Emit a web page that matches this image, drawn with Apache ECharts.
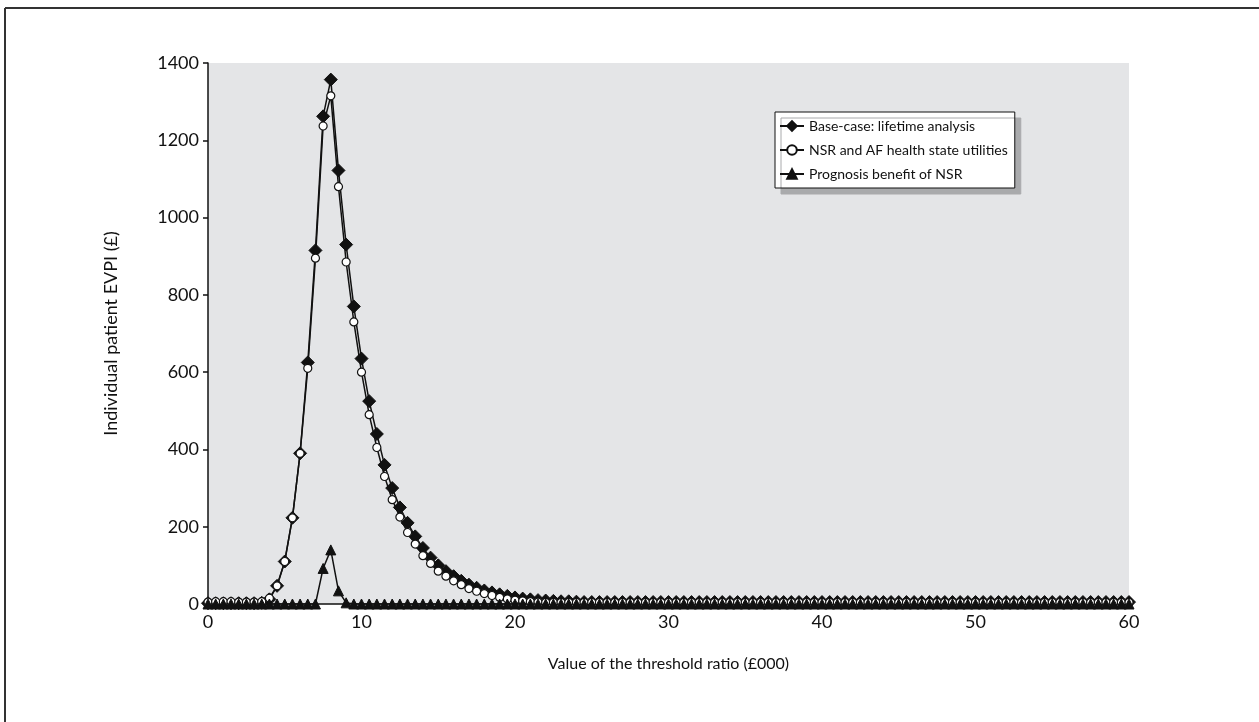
<!DOCTYPE html>
<html>
<head>
    <meta charset="utf-8">
    <script src="https://cdn.jsdelivr.net/npm/echarts@6/dist/echarts.min.js"></script>
    <title>EVPI</title>
    <style>
        html, body { margin: 0; padding: 0; background: #fff; }
        #main { width: 1259px; height: 722px; }
    </style>
</head>
<body>
    <div id="main"></div>
    <script>
        // threshold ratio, £000, every 500
        const ratio = [];
        for (let i = 0; i <= 120; i++) ratio.push(i / 2);

        const baseCase = [
            2, 2, 2, 2, 2, 2, 2, 3,
            12, 47, 110, 223, 390, 625, 915, 1262, 1357, 1122,
            930, 770, 635, 525, 440, 360, 300, 250, 210, 175,
            145, 120, 100, 85, 72, 60, 50, 42, 35, 30,
            25, 21, 17, 14, 12, 10, 9, 8, 7, 7, 6,
            5, 5, 5, 5, 5, 5, 5, 5, 5,
            5, 5, 5, 5, 5, 5, 5, 5, 5,
            5, 5, 5, 5, 5, 5, 5, 5, 5,
            5, 5, 5, 5, 5, 5, 5, 5, 5,
            5, 5, 5, 5, 5, 5, 5, 5, 5,
            5, 5, 5, 5, 5, 5, 5, 5, 5,
            5, 5, 5, 5, 5, 5, 5, 5, 5,
            5, 5, 5, 5, 5, 5, 5, 5, 5
        ];

        const utilities = [
            5, 6, 6, 6, 5, 5, 5, 6,
            15, 47, 110, 223, 390, 610, 895, 1237, 1315, 1080,
            885, 730, 600, 490, 405, 330, 270, 225, 185, 155,
            125, 105, 85, 72, 60, 50, 40, 33, 27, 22,
            17, 13, 10, 8, 6, 5,
            4, 4, 4, 4, 4, 4, 4, 4, 4, 4, 4,
            4, 4, 4, 4, 4, 4, 4, 4, 4, 4, 4,
            4, 4, 4, 4, 4, 4, 4, 4, 4, 4, 4,
            4, 4, 4, 4, 4, 4, 4, 4, 4, 4, 4,
            4, 4, 4, 4, 4, 4, 4, 4, 4, 4, 4,
            4, 4, 4, 4, 4, 4, 4, 4, 4, 4, 4,
            4, 4, 4, 4, 4, 4, 4, 4, 4, 4, 4
        ];

        const prognosis = [
            0, 0, 0, 0, 0, 0, 0, 0, 0, 0,
            0, 0, 0, 0, 0, 92, 140, 34, 3,
            0, 0, 0, 0, 0, 0, 0, 0, 0, 0,
            0, 0, 0, 0, 0, 0, 0, 0, 0, 0,
            0, 0, 0, 0, 0, 0, 0, 0, 0, 0,
            0, 0, 0, 0, 0, 0, 0, 0, 0, 0,
            0, 0, 0, 0, 0, 0, 0, 0, 0, 0,
            0, 0, 0, 0, 0, 0, 0, 0, 0, 0,
            0, 0, 0, 0, 0, 0, 0, 0, 0, 0,
            0, 0, 0, 0, 0, 0, 0, 0, 0, 0,
            0, 0, 0, 0, 0, 0, 0, 0, 0, 0,
            0, 0, 0, 0, 0, 0, 0, 0, 0, 0,
            0, 0
        ];

        const seriesNames = [
            'Base-case: lifetime analysis',
            'NSR and AF health state utilities',
            'Prognosis benefit of NSR'
        ];

        const font = 'Lato';
        const pairs = (vals) => vals.map((v, i) => [ratio[i], v]);

        var myChart = echarts.init(document.getElementById('main'));
        myChart.setOption({
            backgroundColor: '#ffffff',
            animation: false,
            textStyle: { fontFamily: font, color: '#111' },
            graphic: [
                { type: 'line', shape: { x1: 5, y1: 8, x2: 1259, y2: 8 }, style: { stroke: '#333', lineWidth: 2 } },
                { type: 'line', shape: { x1: 5, y1: 8, x2: 5, y2: 722 }, style: { stroke: '#333', lineWidth: 2 } }
            ],
            grid: {
                left: 208, right: 130, top: 63, bottom: 118,
                show: true, backgroundColor: '#e4e5e7', borderWidth: 0
            },
            legend: {
                orient: 'vertical',
                left: 775, top: 112,
                itemWidth: 24, itemHeight: 12, itemGap: 10,
                padding: [7, 7, 7, 4],
                backgroundColor: '#ffffff',
                borderColor: '#111', borderWidth: 1,
                shadowColor: '#a9aaac', shadowBlur: 0, shadowOffsetX: 6, shadowOffsetY: 6,
                textStyle: { fontFamily: font, fontSize: 14, color: '#111' },
                data: seriesNames
            },
            xAxis: {
                type: 'value', min: 0, max: 60, interval: 10,
                name: 'Value of the threshold ratio (£000)',
                nameLocation: 'middle', nameGap: 52,
                nameTextStyle: { fontFamily: font, fontSize: 16, color: '#111' },
                axisLine: { lineStyle: { color: '#111', width: 1.5 } },
                axisTick: { length: 5, lineStyle: { color: '#111', width: 1.5 } },
                axisLabel: { fontFamily: font, fontSize: 18, color: '#111', margin: 9 },
                splitLine: { show: false }
            },
            yAxis: {
                type: 'value', min: 0, max: 1400, interval: 200,
                name: 'Individual patient EVPI (£)',
                nameLocation: 'middle', nameGap: 88,
                nameTextStyle: { fontFamily: font, fontSize: 18, color: '#111' },
                axisLine: { show: true, lineStyle: { color: '#111', width: 1.5 } },
                axisTick: { show: true, length: 5, lineStyle: { color: '#111', width: 1.5 } },
                axisLabel: { fontFamily: font, fontSize: 18, color: '#111', margin: 9, formatter: (v) => String(v) },
                splitLine: { show: false }
            },
            series: [
                {
                    name: seriesNames[0], type: 'line', data: pairs(baseCase),
                    symbol: 'diamond', symbolSize: 13, showAllSymbol: true,
                    lineStyle: { color: '#111', width: 1.5 },
                    itemStyle: { color: '#111', borderColor: '#111', borderWidth: 1 }
                },
                {
                    name: seriesNames[1], type: 'line', data: pairs(utilities),
                    symbol: 'circle', symbolSize: 8, showAllSymbol: true,
                    lineStyle: { color: '#111', width: 1.5 },
                    itemStyle: { color: '#ffffff', borderColor: '#111', borderWidth: 1.2 }
                },
                {
                    name: seriesNames[2], type: 'line', data: pairs(prognosis),
                    symbol: 'triangle', symbolSize: 10, showAllSymbol: true,
                    lineStyle: { color: '#111', width: 1.5 },
                    itemStyle: { color: '#111', borderColor: '#111', borderWidth: 1 }
                }
            ]
        });
    </script>
</body>
</html>
